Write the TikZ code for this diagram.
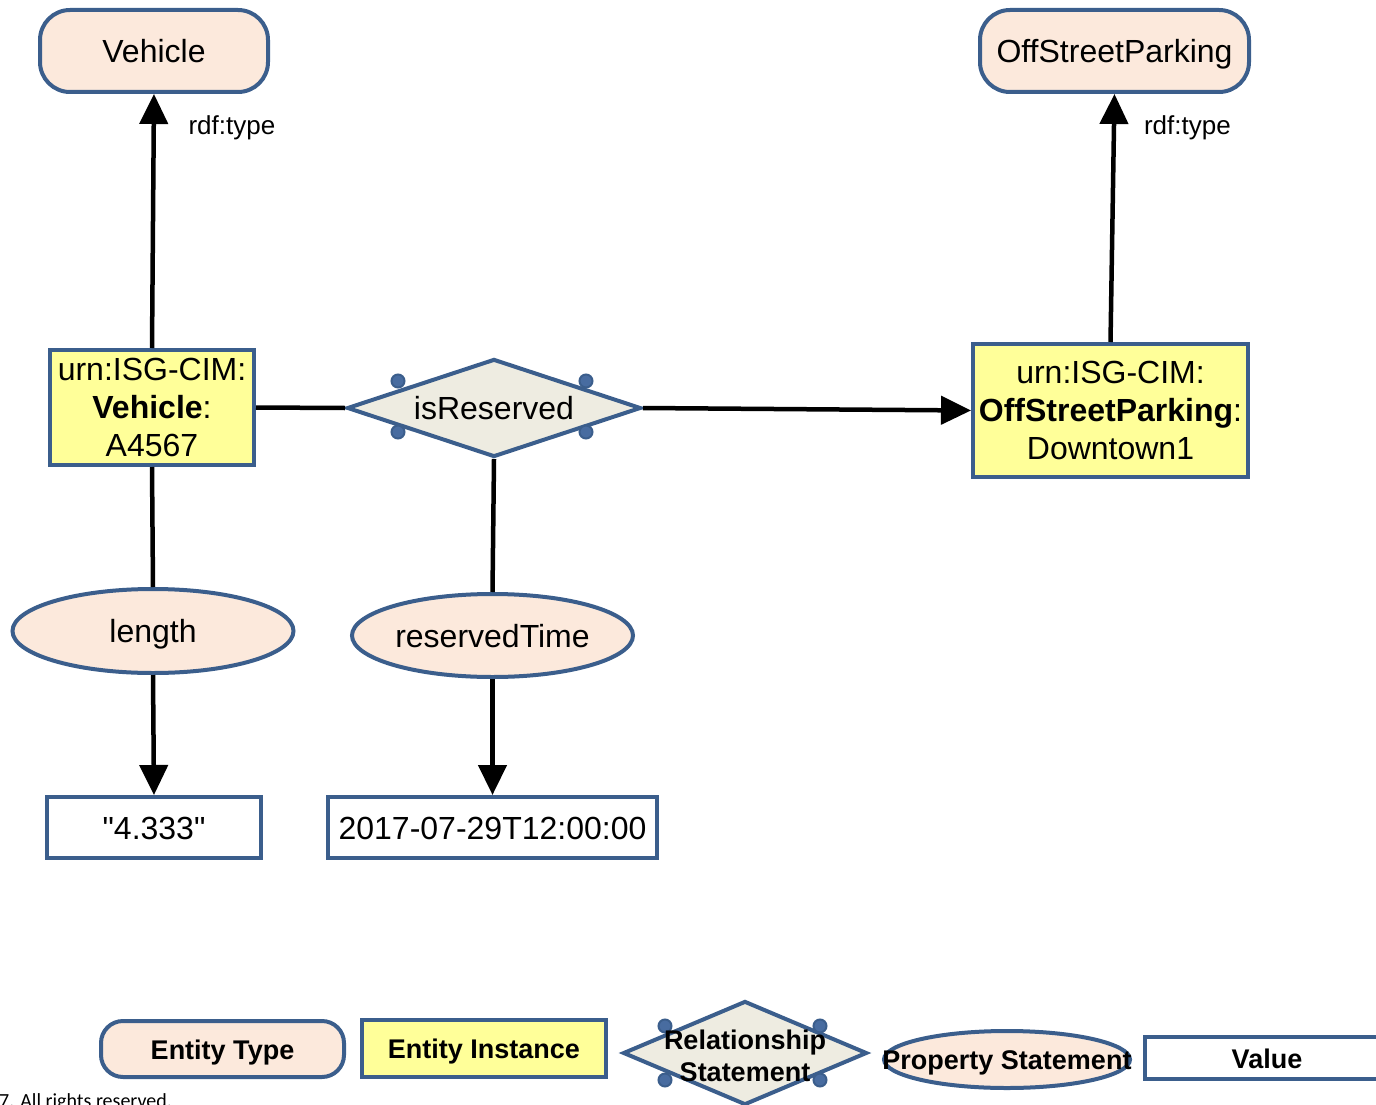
\documentclass[tikz,border=0pt]{standalone}
\usepackage{fontspec}
\setmainfont{Liberation Sans}[Ligatures=TeXOff]
\newfontfamily\footfont{Carlito}
\usetikzlibrary{shapes.geometric,arrows.meta,calc}
\definecolor{bordc}{RGB}{59,94,140}
\definecolor{dotc}{RGB}{72,108,160}
\definecolor{peach}{RGB}{252,233,220}
\definecolor{instfill}{RGB}{255,255,153}
\definecolor{relfill}{RGB}{238,236,225}
\tikzset{
  base/.style={draw=bordc, line width=4pt, inner sep=0pt, align=center, text=black},
  oneline/.style={text height=23pt, text depth=0pt},
  etype/.style={base, oneline, rectangle, rounded corners=30pt, fill=peach, minimum width=228pt, minimum height=82pt, font=\fontsize{32}{36}\selectfont},
  einst/.style={base, rectangle, fill=instfill, font=\fontsize{32}{38}\selectfont},
  relshape/.style={base, oneline, diamond, aspect=3, fill=relfill, font=\fontsize{32}{36}\selectfont},
  propshape/.style={base, oneline, ellipse, fill=peach, font=\fontsize{32}{36}\selectfont},
  valbox/.style={base, oneline, rectangle, fill=white, font=\fontsize{32}{36}\selectfont},
  conn/.style={line width=4.5pt, black},
  arr/.style={conn, -{Triangle[length=30pt,width=28pt]}},
  rdflabel/.style={font=\fontsize{26}{30}\selectfont, anchor=west},
  legtxt/.style={font=\fontsize{27}{32}\selectfont\bfseries, align=center},
  hook/.style={circle, fill=dotc, draw=bordc, line width=2pt, minimum size=13pt, inner sep=0pt},
}
\begin{document}
\begin{tikzpicture}[x=1pt, y=-1pt]
\useasboundingbox (0,0) rectangle (1376,1105);

% Entity types
\node[etype] (vtype) at (154,51) {Vehicle};
\node[etype, minimum width=269pt] (ptype) at (1114.5,51) {OffStreetParking};

% Entity instances
\node[einst, minimum width=204pt, minimum height=115pt] (vinst) at (152,407.5)
  {urn:ISG-CIM:\\\textbf{Vehicle}:\\A4567};
\node[einst, minimum width=275pt, minimum height=133pt] (pinst) at (1110.5,410.5)
  {urn:ISG-CIM:\\\textbf{OffStreetParking}:\\Downtown1};

% Relationship
\node[relshape, minimum width=294pt, minimum height=98pt] (rel) at (494,408) {isReserved};
\foreach \dx/\dy in {-96/-27, 92/-27, -96/24, 92/24}
  \node[hook] at ($(rel.center)+(\dx,\dy)$) {};

% Properties
\node[propshape, minimum width=281pt, minimum height=84pt] (plen) at (153,631) {length};
\node[propshape, minimum width=281pt, minimum height=83pt] (ptime) at (492.5,635.5) {reservedTime};

% Values
\node[valbox, minimum width=214pt, minimum height=61pt] (vlen) at (154,827.5) {"4.333"};
\node[valbox, minimum width=329pt, minimum height=61pt] (vtime) at (492.5,827.5) {2017-07-29T12:00:00};

% Connectors
\draw[arr] (vinst.north) -- (vtype.south);
\draw[arr] (pinst.north) -- (ptype.south);
\node[rdflabel] (lbl1) at ($(vtype.south)+(31,34)$) {rdf:type};
\node[rdflabel] (lbl2) at ($(ptype.south)+(26,34)$) {rdf:type};
\draw[conn] (vinst.east) -- (rel.west);
\draw[arr] (rel.east) -- (pinst.west);
\draw[conn] (vinst.south) -- (plen.north);
\draw[conn] (rel.south) -- (ptime.north);
\draw[arr] (plen.south) -- (vlen.north);
\draw[arr] (ptime.south) -- (vtime.north);

% Legend
\node[etype, minimum width=243pt, minimum height=56pt, rounded corners=22pt] (lgtype) at (222.5,1049) {};
\node[legtxt] (lgtypetxt) at (222.5,1052.5) {Entity Type};
\node[einst, minimum width=244pt, minimum height=57pt] (lginst) at (484,1048.5) {};
\node[legtxt] (lginsttxt) at (484,1052) {Entity Instance};
\node[relshape, minimum width=244pt, minimum height=104pt] (lgrel) at (745,1053) {};
\foreach \dx/\dy in {-80/-27, 75/-27, -80/27, 75/27}
  \node[hook] at ($(lgrel.center)+(\dx,\dy)$) {};
\node[legtxt] (lgreltxt) at (745,1056) {Relationship\\Statement};
\node[propshape, minimum width=246pt, minimum height=57pt] (lgprop) at (1007,1059.5) {};
\node[legtxt] (lgproptxt) at (1007,1063) {Property Statement};
\node[valbox, minimum width=250pt, minimum height=42pt] (lgval) at (1270,1058) {};
\node[legtxt] (lgvaltxt) at (1267,1059) {Value};

% Footer
\node[anchor=base west, inner sep=0pt, font=\footfont\fontsize{20}{24}\selectfont] (foot) at (-1,1107) {7. All rights reserved.};
\end{tikzpicture}
\end{document}
